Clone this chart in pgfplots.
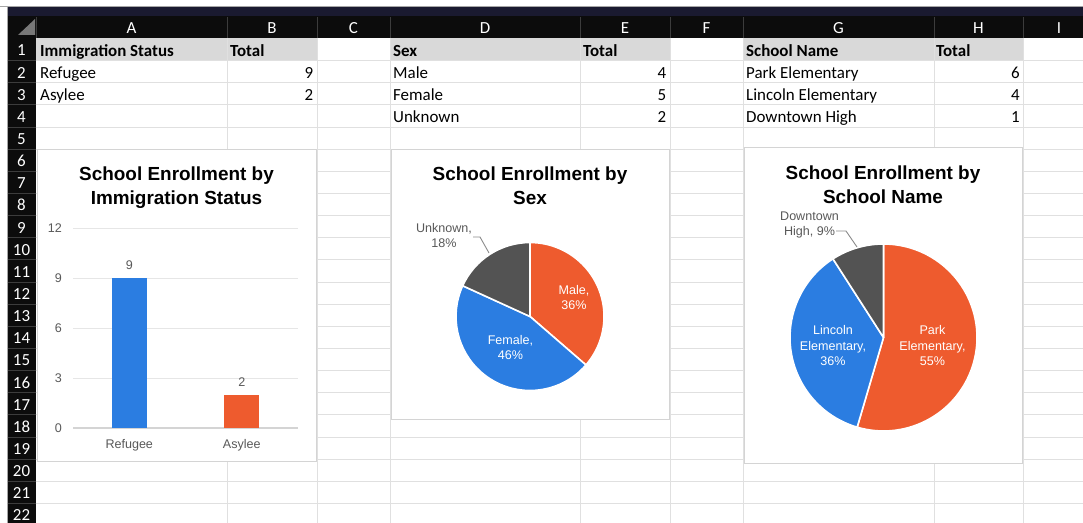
\documentclass[border=0pt]{standalone}
\usepackage{pgfplots}
\pgfplotsset{compat=1.18}
\usepackage{pgfplotstable}
\usepackage{fontspec}
\setmainfont{Carlito}
\newfontfamily\chartfont{Liberation Sans}

\definecolor{cblue}{RGB}{43,125,225}
\definecolor{corange}{RGB}{238,91,46}
\definecolor{cgray}{RGB}{83,83,83}
\definecolor{textgray}{RGB}{89,89,89}
\definecolor{gridgray}{RGB}{230,230,230}
\definecolor{axisgray}{RGB}{212,212,212}
\definecolor{sheetgrid}{RGB}{224,224,224}
\definecolor{hdrgray}{RGB}{217,217,217}
\definecolor{hdrblack}{RGB}{12,12,12}
\definecolor{hdrsep}{RGB}{60,60,60}
\definecolor{navyband}{RGB}{26,26,48}
\definecolor{chartborder}{RGB}{212,212,212}
\definecolor{trigray}{RGB}{120,120,120}

\pgfplotstableread{
label value
Refugee 9
Asylee 2
}\immdata
\pgfplotstableread{
label value
Male 4
Female 5
Unknown 2
}\sexdata
\pgfplotstableread{
label value
Park 6
Lincoln 4
Downtown 1
}\schooldata

\newcommand{\pieslice}[4]{%
  \fill[#1, draw=white, line width=1.6bp, line join=round] (axis cs:0,0) -- ++(#2:#4) arc[start angle=#2, end angle=#3, radius=#4] -- cycle;}

\newcommand{\cellfont}{\fontsize{17}{20}\selectfont}
\newcommand{\titlefont}{\chartfont\bfseries\fontsize{19}{22}\selectfont}
\newcommand{\lblfont}{\chartfont\fontsize{12.6}{15}\selectfont}

\begin{document}
\begin{tikzpicture}
% ---------------- spreadsheet background (pixel coords, y down) ----------------
\begin{scope}[x=1bp, y=-1bp, shift={(0bp,523bp)}]
  \fill[white] (0,0) rectangle (1083,523);
  % header fills of row 1
  \fill[hdrgray] (36,38.5) rectangle (317,60.6);
  \fill[hdrgray] (390,38.5) rectangle (670,60.6);
  \fill[hdrgray] (743,38.5) rectangle (1023,60.6);
  % grid
  \foreach \xx in {227,317,390,580,670,743,934,1023}
    \draw[sheetgrid, line width=1bp] (\xx,38.5) -- (\xx,523);
  \foreach \k in {1,...,22}
    \draw[sheetgrid, line width=1bp] (36,{38.5+22.14*\k}) -- (1083,{38.5+22.14*\k});
  % top band and headers
  \draw[gray!70, line width=1bp] (0,7) -- (1083,7);
  \draw[gray!70, line width=1bp] (7,7) -- (7,523);
  \fill[navyband] (7.5,7.5) rectangle (1083,16.5);
  \fill[hdrblack] (7.5,16.5) rectangle (1083,38.5);
  \fill[hdrblack] (7.5,16.5) rectangle (36,523);
  \foreach \xx in {36,227,317,390,580,670,743,934,1023}
    \draw[hdrsep, line width=1bp] (\xx,17) -- (\xx,38.5);
  \foreach \k in {1,...,22}
    \draw[hdrsep, line width=1bp] (7.5,{38.5+22.14*\k}) -- (36,{38.5+22.14*\k});
  \fill[trigray] (18,35) -- (35,35) -- (35,19) -- cycle;
  \foreach \xx/\l in {131.5/A,272/B,353.5/C,485/D,625/E,706.5/F,838.5/G,978.5/H,1059/I}
    \node[white, anchor=base, inner sep=0pt, font=\cellfont] at (\xx,33.5) {\l};
  \foreach \n in {1,...,22}
    \node[white, anchor=base, inner sep=0pt, font=\cellfont] at (21.5,{38.5+22.14*(\n-1)+17.5}) {\n};
  % cell text
  \begin{scope}[every node/.style={inner sep=0pt, font=\cellfont, text=black}]
    \node[anchor=base west] at (40,56.5) {\bfseries Immigration Status};
    \node[anchor=base west] at (230,56.5) {\bfseries Total};
    \node[anchor=base west] at (40,78.6) {Refugee};
    \node[anchor=base east] at (313.5,78.6) {9};
    \node[anchor=base west] at (40,100.8) {Asylee};
    \node[anchor=base east] at (313.5,100.8) {2};
    \node[anchor=base west] at (393,56.5) {\bfseries Sex};
    \node[anchor=base west] at (583,56.5) {\bfseries Total};
    \node[anchor=base west] at (393,78.6) {Male};
    \node[anchor=base east] at (666.5,78.6) {4};
    \node[anchor=base west] at (393,100.8) {Female};
    \node[anchor=base east] at (666.5,100.8) {5};
    \node[anchor=base west] at (393,122.9) {Unknown};
    \node[anchor=base east] at (666.5,122.9) {2};
    \node[anchor=base west] at (746,56.5) {\bfseries School Name};
    \node[anchor=base west] at (936,56.5) {\bfseries Total};
    \node[anchor=base west] at (746,78.6) {Park Elementary};
    \node[anchor=base east] at (1020,78.6) {6};
    \node[anchor=base west] at (746,100.8) {Lincoln Elementary};
    \node[anchor=base east] at (1020,100.8) {4};
    \node[anchor=base west] at (746,122.9) {Downtown High};
    \node[anchor=base east] at (1020,122.9) {1};
  \end{scope}
  % chart areas
  \filldraw[fill=white, draw=chartborder, line width=1bp] (37,150) rectangle (316,462);
  \filldraw[fill=white, draw=chartborder, line width=1bp] (391,150) rectangle (669,420);
  \filldraw[fill=white, draw=chartborder, line width=1bp] (744,148) rectangle (1022,464);
  % titles
  \begin{scope}[every node/.style={inner sep=0pt, anchor=base, font=\titlefont, text=black}]
    \node at (176.5,181) {School Enrollment by};
    \node at (176.5,205) {Immigration Status};
    \node at (530,181) {School Enrollment by};
    \node at (530,205) {Sex};
    \node at (883,180) {School Enrollment by};
    \node at (883,204) {School Name};
  \end{scope}
\end{scope}

% ---------------- bar chart ----------------
\begin{axis}[at={(73bp,95bp)}, anchor=south west, scale only axis,
  width=225bp, height=200bp,
  xmin=-0.5, xmax=1.5, ymin=0, ymax=12,
  ytick={0,3,6,9,12}, xtick={0,1}, xticklabels={Refugee,Asylee},
  ymajorgrids, grid style={draw=gridgray, line width=0.9bp},
  axis line style={draw=none}, major tick length=0pt,
  /pgf/number format/assume math mode=true,
  tick label style={font=\lblfont, text=textgray},
  yticklabel style={anchor=east, inner sep=0pt, xshift=-11bp},
  xticklabel style={anchor=north, inner sep=0pt, yshift=-11bp},
  clip=false]
  \draw[axisgray, line width=1.6bp] (axis cs:-0.5,0) -- (axis cs:1.5,0);
  \addplot[ybar, bar width=35bp, bar shift=0pt, fill=cblue, draw=none,
    nodes near coords, every node near coord/.append style={font=\lblfont, text=textgray, anchor=center, yshift=13bp}]
    table[x expr=\coordindex, y=value, restrict expr to domain={\coordindex}{0:0}] {\immdata};
  \addplot[ybar, bar width=35bp, bar shift=0pt, fill=corange, draw=none,
    nodes near coords, every node near coord/.append style={font=\lblfont, text=textgray, anchor=center, yshift=13bp}]
    table[x expr=\coordindex, y=value, restrict expr to domain={\coordindex}{1:1}] {\immdata};
\end{axis}

% ---------------- pie: sex ----------------
\pgfplotstablegetelem{0}{value}\of\sexdata \pgfmathsetmacro\sA{\pgfplotsretval}
\pgfplotstablegetelem{1}{value}\of\sexdata \pgfmathsetmacro\sB{\pgfplotsretval}
\pgfplotstablegetelem{2}{value}\of\sexdata \pgfmathsetmacro\sC{\pgfplotsretval}
\pgfmathsetmacro\sT{\sA+\sB+\sC}
\pgfmathsetmacro\angSa{90-360*\sA/\sT}
\pgfmathsetmacro\angSb{\angSa-360*\sB/\sT}
\pgfmathsetmacro\angSc{\angSb-360*\sC/\sT}
\begin{axis}[at={(530bp,206.5bp)}, anchor=center, scale only axis,
  width=148bp, height=148bp, xmin=-1, xmax=1, ymin=-1, ymax=1,
  hide axis, clip=false]
  \pieslice{corange}{90}{\angSa}{74bp}
  \pieslice{cblue}{\angSa}{\angSb}{74bp}
  \pieslice{cgray}{\angSb}{\angSc}{74bp}
\end{axis}

% ---------------- pie: school ----------------
\pgfplotstablegetelem{0}{value}\of\schooldata \pgfmathsetmacro\pA{\pgfplotsretval}
\pgfplotstablegetelem{1}{value}\of\schooldata \pgfmathsetmacro\pB{\pgfplotsretval}
\pgfplotstablegetelem{2}{value}\of\schooldata \pgfmathsetmacro\pC{\pgfplotsretval}
\pgfmathsetmacro\pT{\pA+\pB+\pC}
\pgfmathsetmacro\angPa{90-360*\pA/\pT}
\pgfmathsetmacro\angPb{\angPa-360*\pB/\pT}
\pgfmathsetmacro\angPc{\angPb-360*\pC/\pT}
\begin{axis}[at={(883.5bp,185.5bp)}, anchor=center, scale only axis,
  width=187bp, height=187bp, xmin=-1, xmax=1, ymin=-1, ymax=1,
  hide axis, clip=false]
  \pieslice{corange}{90}{\angPa}{93.5bp}
  \pieslice{cblue}{\angPa}{\angPb}{93.5bp}
  \pieslice{cgray}{\angPb}{\angPc}{93.5bp}
\end{axis}

% ---------------- pie labels ----------------
\begin{scope}[x=1bp, y=-1bp, shift={(0bp,523bp)}]
  \begin{scope}[every node/.style={inner sep=0pt, anchor=base, font=\lblfont}]
    \node[text=white] at (574,294.5) {Male,};
    \node[text=white] at (574,309.5) {36\%};
    \node[text=white] at (510.5,345) {Female,};
    \node[text=white] at (510.5,360) {46\%};
    \node[text=textgray] at (444,233) {Unknown,};
    \node[text=textgray] at (444,248) {18\%};
    \node[text=white] at (932.5,335) {Park};
    \node[text=white] at (932.5,350.5) {Elementary,};
    \node[text=white] at (932.5,366) {55\%};
    \node[text=white] at (833,335) {Lincoln};
    \node[text=white] at (833,350.5) {Elementary,};
    \node[text=white] at (833,366) {36\%};
    \node[text=textgray] at (809.5,221) {Downtown};
    \node[text=textgray] at (809.5,236) {High, 9\%};
  \end{scope}
  \draw[textgray!70, line width=0.9bp] (473,237) -- (480,237) -- (489,253);
  \draw[textgray!70, line width=0.9bp] (836,231) -- (846,231) -- (857,247);
\end{scope}
\pgfresetboundingbox
\useasboundingbox (0,0) rectangle (1083bp,523bp);
\end{tikzpicture}
\end{document}
